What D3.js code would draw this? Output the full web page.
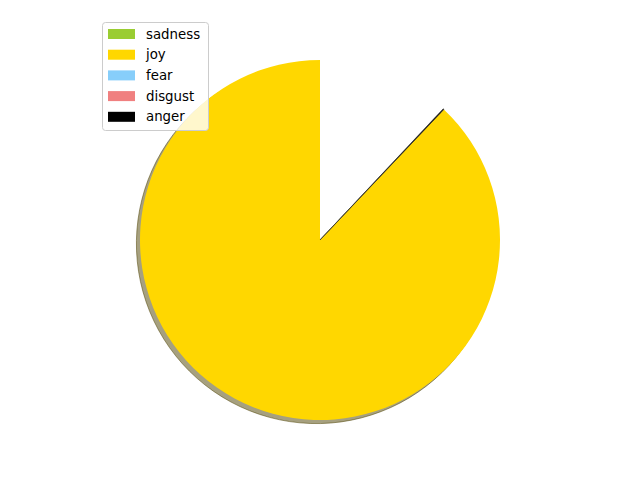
<!DOCTYPE html>
<html>
<head>
<meta charset="utf-8">
<script src="https://cdn.jsdelivr.net/npm/d3@7"></script>
<style>
  body { margin: 0; background: #fff; }
  svg { display: block; }
  text { font-family: "DejaVu Sans", sans-serif; }
</style>
</head>
<body>
<svg id="chart" width="640" height="480"></svg>
<script>
// emotion shares (fractions, sum < 1 so the pie is left open)
var labels = ["sadness", "joy", "fear", "disgust", "anger"];
var values = [0, 0.8792, 0, 0, 0.0008];
var colors = ["#9acd32", "#ffd700", "#87cefa", "#f08080", "#000000"];

var width = 640, height = 480;
var cx = 320, cy = 240, radius = 180;

var svg = d3.select("#chart");

var total = d3.sum(values);
// matplotlib style: start at top, go counter clockwise
var pie = d3.pie()
  .sort(null)
  .value(function(d) { return d; })
  .startAngle(0)
  .endAngle(-2 * Math.PI * Math.min(1, total));

var arcs = pie(values);
var arc = d3.arc().innerRadius(0).outerRadius(radius);

function shade(i) {
  var c = d3.rgb(colors[i]);
  return d3.rgb(c.r * 0.3, c.g * 0.3, c.b * 0.3);
}

// shadow
var shadow = svg.append("g")
  .attr("transform", "translate(" + (cx - 3.6) + "," + (cy + 3.6) + ")");
shadow.selectAll("path")
  .data(arcs.filter(function(d) { return d.value > 0.01; }))
  .enter().append("path")
  .attr("d", arc)
  .attr("fill", function(d) { return shade(d.index); })
  .attr("fill-opacity", 0.5)
  .attr("stroke", function(d) { return shade(d.index); })
  .attr("stroke-opacity", 0.5)
  .attr("stroke-width", 1);

var g = svg.append("g")
  .attr("transform", "translate(" + cx + "," + cy + ")");
g.selectAll("path")
  .data(arcs)
  .enter().append("path")
  .attr("d", arc)
  .attr("fill", function(d, i) { return colors[i]; })
  .attr("stroke", function(d, i) { return values[i] > 0 && values[i] < 0.01 ? "#333" : "none"; })
  .attr("stroke-width", 0.6);

// legend
var legend = svg.append("g").attr("transform", "translate(102,22)");
legend.append("rect")
  .attr("x", 0.5).attr("y", 0.5)
  .attr("width", 106).attr("height", 108)
  .attr("rx", 3)
  .attr("fill", "#fff").attr("fill-opacity", 0.8)
  .attr("stroke", "#cccccc").attr("stroke-width", 1);

var rows = legend.selectAll("g.row")
  .data(labels)
  .enter().append("g")
  .attr("class", "row")
  .attr("transform", function(d, i) { return "translate(0," + (12 + i * 20.7) + ")"; });
rows.append("rect")
  .attr("x", 6).attr("y", -5)
  .attr("width", 27).attr("height", 10)
  .attr("fill", function(d, i) { return colors[i]; });
rows.append("text")
  .attr("x", 44).attr("y", 0)
  .attr("dy", "0.35em")
  .attr("font-size", "13.33px")
  .attr("fill", "#000")
  .text(function(d) { return d; });
</script>
</body>
</html>
